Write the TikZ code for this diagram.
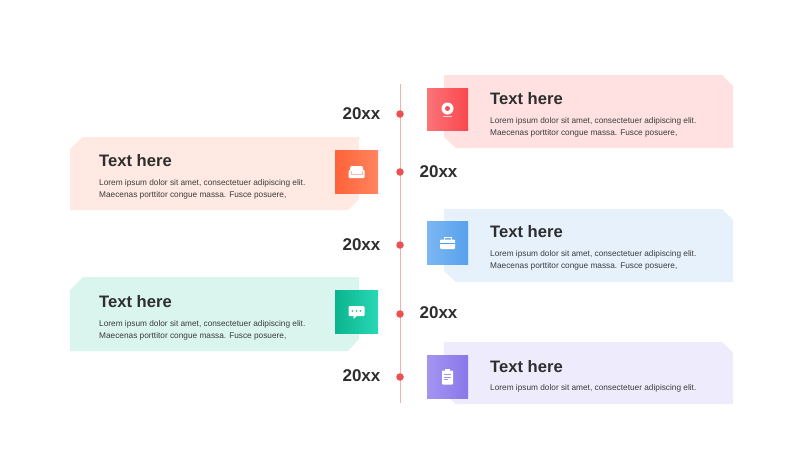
\documentclass[tikz,border=0pt]{standalone}
\usepackage{fontspec}
\setmainfont{Liberation Sans}
\usepackage{tikz}
\usetikzlibrary{positioning}
\definecolor{linered}{HTML}{F6AEAE}
\definecolor{dotred}{HTML}{EE4F50}
\definecolor{inkdark}{HTML}{2E2E2E}
\definecolor{inkbody}{HTML}{3C3C3C}
\definecolor{cardred}{HTML}{FFE1E1}
\definecolor{cardorange}{HTML}{FFE9E2}
\definecolor{cardblue}{HTML}{E6F1FC}
\definecolor{cardgreen}{HTML}{DAF5EE}
\definecolor{cardviolet}{HTML}{EEEBFC}
\definecolor{redlight}{HTML}{FB7478}
\definecolor{reddark}{HTML}{F8484F}
\definecolor{orangelight}{HTML}{FF8560}
\definecolor{orangedark}{HTML}{FF6238}
\definecolor{bluelight}{HTML}{7DB6F2}
\definecolor{bluedark}{HTML}{57A1EC}
\definecolor{greenlight}{HTML}{2AD8B6}
\definecolor{greendark}{HTML}{0AB48D}
\definecolor{violetlight}{HTML}{A495F1}
\definecolor{violetdark}{HTML}{8A76EA}
\tikzset{
	yeartext/.style={font=\fontsize{17}{20}\selectfont\bfseries,text=inkdark,inner sep=0pt},
	titletext/.style={font=\fontsize{16.6}{20}\selectfont\bfseries,text=inkdark,inner sep=0pt,anchor=west},
	bodytext/.style={font=\fontsize{8.28}{12}\selectfont,text=inkbody,inner sep=0pt,anchor=north west,align=left},
	dotnode/.style={circle,fill=dotred,inner sep=0pt,minimum size=7.5pt},
	iconbox/.style={inner sep=0pt,minimum width=41pt,minimum height=42.5pt,shading angle=-45},
	glyph/.style={fill=white,draw=none}
}
\begin{document}
\begin{tikzpicture}[x=1pt,y=-1pt,node distance=38.5pt]
			 \useasboundingbox[fill=white] (0,0) rectangle (800,450);
			 % cards
			 \fill[cardred] (444,75) -- (722,75) -- (733,86) -- (733,148) -- (456,148) -- (444,137) -- cycle;
			 \fill[cardorange] (83,137) -- (359,137) -- (359,199) -- (348,210) -- (70,210) -- (70,149) -- cycle;
			 \fill[cardblue] (444,209) -- (722,209) -- (733,220) -- (733,282) -- (456,282) -- (444,271) -- cycle;
			 \fill[cardgreen] (83,277) -- (359,277) -- (359,339) -- (348,351) -- (70,351) -- (70,290) -- cycle;
			 \fill[cardviolet] (444,342) -- (722,342) -- (733,353) -- (733,404) -- (456,404) -- (444,393) -- cycle;
			 % time line
			 \coordinate (top) at (400.5,84);
			 \coordinate (bottom) at (400.5,403);
			 \draw[linered,line width=1pt] (top) -- (bottom);
			 \node[dotnode] (dotA) at (400,114) {};
			 \node[dotnode] (dotB) at (400,172) {};
			 \node[dotnode] (dotC) at (400,245) {};
			 \node[dotnode] (dotD) at (400,314) {};
			 \node[dotnode] (dotE) at (400,377) {};
			 \node[yeartext] (yearA) [left of=dotA] {20xx};
			 \node[yeartext,yshift=.5pt] (yearB) [right of=dotB] {20xx};
			 \node[yeartext] (yearC) [left of=dotC] {20xx};
			 \node[yeartext,yshift=1pt] (yearD) [right of=dotD] {20xx};
			 \node[yeartext,yshift=1pt] (yearE) [left of=dotE] {20xx};
			 % icon boxes
			 \node[iconbox,left color=redlight,middle color=reddark,right color=reddark] (iconA) at (447.5,109.5) {};
			 \node[iconbox,minimum width=43pt,shading angle=45,left color=orangedark,middle color=orangedark,right color=orangelight] (iconB) at (356.5,172) {};
			 \node[iconbox,left color=bluelight,middle color=bluedark,right color=bluedark] (iconC) at (447.5,243) {};
			 \node[iconbox,minimum width=43pt,shading angle=45,left color=greendark,middle color=greendark,right color=greenlight] (iconD) at (356.5,312) {};
			 \node[iconbox,left color=violetlight,middle color=violetdark,right color=violetdark] (iconE) at (447.5,377) {};
			 % glyphs
			 \fill[glyph] ([yshift=1pt]iconA.center) circle (6);
			 \fill[dotred] ([yshift=1pt]iconA.center) circle (2.5);
			 \fill[glyph,opacity=.7] ([xshift=-4.5pt,yshift=-6pt]iconA.center) rectangle ([xshift=4.5pt,yshift=-7pt]iconA.center);
			 \fill[glyph,rounded corners=2pt] ([xshift=-6.5pt,yshift=-3pt]iconB.center) rectangle ([xshift=6.5pt,yshift=6pt]iconB.center);
			 \fill[glyph,rounded corners=1pt] ([xshift=-8pt,yshift=-6pt]iconB.center) rectangle ([xshift=8pt,yshift=2pt]iconB.center);
			 \draw[orangedark!45!white,line width=.5pt] ([xshift=-5.5pt,yshift=1.5pt]iconB.center) -- ([xshift=-5.5pt,yshift=-2pt]iconB.center) -- ([xshift=5.5pt,yshift=-2pt]iconB.center) -- ([xshift=5.5pt,yshift=1.5pt]iconB.center);
			 \fill[glyph,rounded corners=1pt] ([xshift=-7.5pt,yshift=-6pt]iconC.center) rectangle ([xshift=7.5pt,yshift=3.5pt]iconC.center);
			 \draw[white,line width=1pt] ([xshift=-3.5pt,yshift=3pt]iconC.center) rectangle ([xshift=3.5pt,yshift=5.5pt]iconC.center);
			 \fill[bluedark] ([xshift=-7.5pt,yshift=-.8pt]iconC.center) rectangle ([xshift=7.5pt,yshift=0pt]iconC.center);
			 \fill[glyph,rounded corners=1pt] ([xshift=-8pt,yshift=6pt]iconD.center) rectangle ([xshift=8pt,yshift=-4pt]iconD.center);
			 \fill[glyph] ([xshift=-3pt,yshift=-4pt]iconD.center) -- ([xshift=-3pt,yshift=-7pt]iconD.center) -- ([xshift=0pt,yshift=-4pt]iconD.center) -- cycle;
			 \fill[greendark!70!white] ([xshift=-4pt,yshift=1pt]iconD.center) circle (1.2);
			 \fill[greendark!70!white] ([yshift=1pt]iconD.center) circle (1.2);
			 \fill[greendark!70!white] ([xshift=4pt,yshift=1pt]iconD.center) circle (1.2);
			 \fill[glyph,rounded corners=.8pt] ([xshift=-5.5pt,yshift=6.5pt]iconE.center) rectangle ([xshift=5.5pt,yshift=-7.5pt]iconE.center);
			 \fill[glyph] ([xshift=-2.5pt,yshift=5pt]iconE.center) rectangle ([xshift=2.5pt,yshift=8pt]iconE.center);
			 \draw[violetlight,line width=.6pt] ([xshift=-3.5pt,yshift=2.5pt]iconE.center) -- ([xshift=3.5pt,yshift=2.5pt]iconE.center);
			 \draw[violetlight,line width=.6pt] ([xshift=-3.5pt]iconE.center) -- ([xshift=3.5pt]iconE.center);
			 \draw[violetlight,line width=.6pt] ([xshift=-3.5pt,yshift=-2.5pt]iconE.center) -- ([xshift=0pt,yshift=-2.5pt]iconE.center);
			 % texts
			 \node[titletext] (titleA) at (490,98.5) {Text here};
			 \node[bodytext] (bodyA) at (490,116.8) {Lorem ipsum dolor sit amet, consectetuer adipiscing elit.\\Maecenas porttitor congue massa. Fusce posuere,};
			 \node[titletext] (titleB) at (99,160.5) {Text here};
			 \node[bodytext] (bodyB) at (99,179.5) {Lorem ipsum dolor sit amet, consectetuer adipiscing elit.\\Maecenas porttitor congue massa. Fusce posuere,};
			 \node[titletext] (titleC) at (490,231.5) {Text here};
			 \node[bodytext] (bodyC) at (490,249.8) {Lorem ipsum dolor sit amet, consectetuer adipiscing elit.\\Maecenas porttitor congue massa. Fusce posuere,};
			 \node[titletext] (titleD) at (99,301.5) {Text here};
			 \node[bodytext] (bodyD) at (99,319.8) {Lorem ipsum dolor sit amet, consectetuer adipiscing elit.\\Maecenas porttitor congue massa. Fusce posuere,};
			 \node[titletext] (titleE) at (490,366.5) {Text here};
			 \node[bodytext] (bodyE) at (490,384) {Lorem ipsum dolor sit amet, consectetuer adipiscing elit.};
\end{tikzpicture}
\end{document}
